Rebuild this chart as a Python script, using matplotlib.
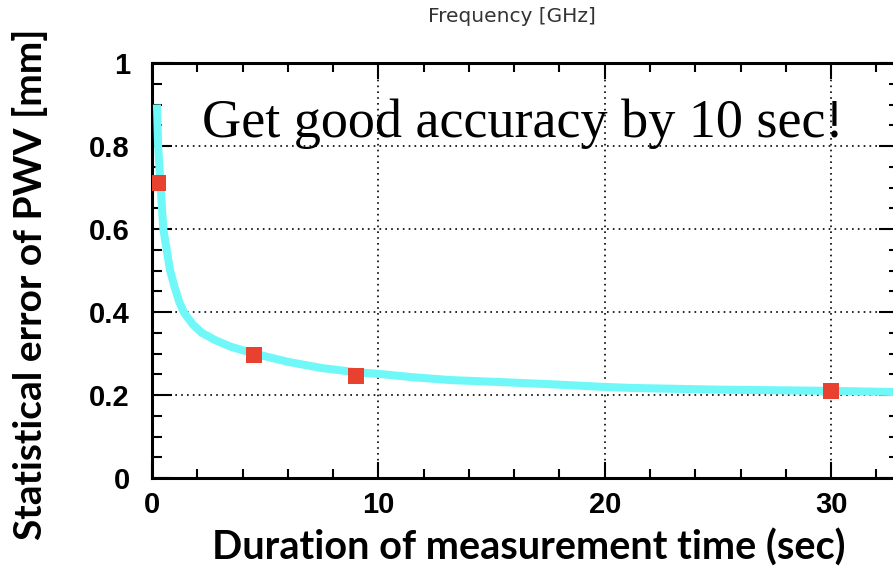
import numpy as np
import matplotlib.pyplot as plt
from matplotlib.ticker import MultipleLocator

# values
curve_t = [0.22, 0.27, 0.5, 0.8, 1.0, 1.2, 1.4, 1.8, 2.2, 2.8, 3.5, 4.5, 6.0, 7.5,
           9.0, 10.0, 11.5, 13.2, 15.5, 17.6, 19.8, 21.2, 25.0, 30.0, 33.0]
curve_err = [0.90, 0.80, 0.60, 0.50, 0.46, 0.425, 0.40, 0.37, 0.35, 0.332, 0.316,
             0.300, 0.280, 0.265, 0.255, 0.251, 0.243, 0.236, 0.231, 0.226, 0.220,
             0.217, 0.213, 0.210, 0.207]
meas_t = [0.27, 4.5, 9.0, 30.0]
meas_err = [0.711, 0.296, 0.246, 0.210]

fig = plt.figure(figsize=(8.93, 5.74), dpi=100)
ax = fig.add_axes([0.1702, 0.1672, 0.8365, 0.7230])

ax.plot(curve_t, curve_err, color="#70F8F8", lw=5.8, solid_capstyle="butt",
        solid_joinstyle="round", zorder=3)
ax.plot(meas_t, meas_err, marker="s", linestyle="", color="#E8412F",
        markersize=11, markeredgewidth=0, zorder=4)

ax.set_xlim(0, 33)
ax.set_ylim(0, 1)
ax.xaxis.set_major_locator(MultipleLocator(10))
ax.xaxis.set_minor_locator(MultipleLocator(2))
ax.yaxis.set_major_locator(MultipleLocator(0.2))
ax.yaxis.set_minor_locator(MultipleLocator(0.05))
ax.set_yticks([0, 0.2, 0.4, 0.6, 0.8, 1.0])
ax.set_yticklabels(["0", "0.2", "0.4", "0.6", "0.8", "1"])

ax.tick_params(axis="both", which="both", direction="in", top=True, right=True,
               width=1.5, colors="black")
ax.tick_params(axis="y", which="major", length=14.5, pad=16)
ax.tick_params(axis="y", which="minor", length=7)
ax.tick_params(axis="x", which="major", length=11.5, pad=9)
ax.tick_params(axis="x", which="minor", length=6.5)
for lab in ax.get_xticklabels() + ax.get_yticklabels():
    lab.set_fontfamily("Liberation Sans")
    lab.set_fontweight("bold")
    lab.set_fontsize(21)

for s in ax.spines.values():
    s.set_linewidth(2.2)
    s.set_color("black")

ax.grid(True, which="major", color="black", lw=1.2, linestyle=(0, (1, 2.5)))

fig.text(529 / 893, 1 - 548 / 574, "Duration of measurement time (sec)", family="Lato",
         fontweight="bold", fontsize=28.5, ha="center", va="center")
fig.text(30 / 893, 1 - 284 / 574, "Statistical error of PWV [mm]", family="Lato",
         fontweight="bold", fontsize=28, rotation=90, ha="center", va="center")

fig.text(512 / 893, 1 - 16 / 574, "Frequency [GHz]", fontsize=14.5, color="#333333",
         ha="center", va="center")

fig.text(523 / 893, 1 - 137 / 574, "Get good accuracy by 10 sec!",
         family="Liberation Serif", fontsize=39, ha="center", va="baseline")

fig.savefig("out.png", dpi=100)
